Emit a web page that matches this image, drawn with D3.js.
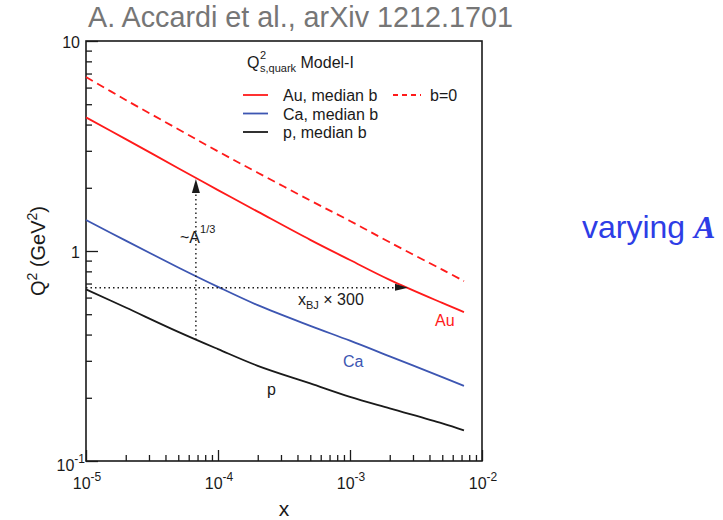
<!DOCTYPE html>
<html>
<head>
<meta charset="utf-8">
<script src="https://cdn.jsdelivr.net/npm/d3@7"></script>
<style>
  body { margin: 0; background: #fff; }
  svg { display: block; }
  text { font-family: "Liberation Sans", Arial, sans-serif; }
</style>
</head>
<body>
<svg width="723" height="520"></svg>
<script>
// values
var xs = [1e-5, 2e-5, 5e-5, 1e-4, 2e-4, 5e-4, 1e-3, 2e-3, 5e-3, 7.3e-3];
var auMedian = [4.33, 3.41, 2.48, 1.95, 1.54, 1.13, 0.906, 0.729, 0.566, 0.512];
var auB0 = [6.74, 5.24, 3.80, 2.98, 2.36, 1.74, 1.39, 1.10, 0.815, 0.719];
var caMedian = [1.405, 1.12, 0.835, 0.675, 0.552, 0.44, 0.374, 0.315, 0.251, 0.228];
var pMedian = [0.657, 0.538, 0.412, 0.341, 0.284, 0.234, 0.202, 0.178, 0.151, 0.140];

var xMajor = [1e-5, 1e-4, 1e-3, 1e-2];
var xExp = ["-5", "-4", "-3", "-2"];
var yMajor = [0.1, 1, 10];

// annotation arrows
var vArrow = { x: 6.8e-5, y0: 0.377, y1: 2.2 };
var hArrow = { y: 0.668, x0: 1e-5, x1: 2.75e-3 };

var red = "#ff1a1a", blue = "#3d56b2", black = "#1a1a1a";

var svg = d3.select("svg");
var margin = { left: 86, right: 482, top: 41, bottom: 461 };

var x = d3.scaleLog().domain([1e-5, 1e-2]).range([margin.left, margin.right]);
var y = d3.scaleLog().domain([0.1, 10]).range([margin.bottom, margin.top]);

// minor tick values
function minors(lo, hi) {
  var out = [];
  for (var e = lo; e < hi; e++)
    for (var k = 2; k <= 9; k++) out.push(k * Math.pow(10, e));
  return out;
}

var gx = svg.append("g").attr("transform", "translate(0," + margin.bottom + ")");
gx.call(d3.axisBottom(x).tickValues(minors(-5, -2)).tickSize(-6).tickSizeOuter(0).tickFormat(""));
gx.append("g").call(d3.axisBottom(x).tickValues(xMajor).tickSize(-11).tickSizeOuter(0).tickFormat(""));

var gy = svg.append("g").attr("transform", "translate(" + margin.left + ",0)");
gy.call(d3.axisLeft(y).tickValues(minors(-1, 1)).tickSize(-6).tickSizeOuter(0).tickFormat(""));
gy.append("g").call(d3.axisLeft(y).tickValues(yMajor).tickSize(-12).tickSizeOuter(0).tickFormat(""));

svg.selectAll(".domain").remove();
svg.selectAll(".tick line").attr("stroke", black).attr("stroke-width", 1.3);

// frame
svg.append("rect")
  .attr("x", margin.left).attr("y", margin.top)
  .attr("width", margin.right - margin.left).attr("height", margin.bottom - margin.top)
  .attr("fill", "none").attr("stroke", black).attr("stroke-width", 1.6);

// x tick labels
xMajor.forEach(function(v, i) {
  var t = svg.append("text").attr("x", x(v) + 1).attr("y", 489)
    .attr("text-anchor", "middle").attr("font-size", 16).attr("fill", black);
  t.append("tspan").text("10");
  t.append("tspan").attr("dy", -8).attr("font-size", 12).text(xExp[i]);
});

// y tick labels
svg.append("text").attr("x", 80).attr("y", y(10) + 7).attr("text-anchor", "end")
  .attr("font-size", 16).attr("fill", black).text("10");
svg.append("text").attr("x", 80).attr("y", y(1) + 7).attr("text-anchor", "end")
  .attr("font-size", 16).attr("fill", black).text("1");
var t1 = svg.append("text").attr("x", 85).attr("y", y(0.1) + 10).attr("text-anchor", "end")
  .attr("font-size", 16).attr("fill", black);
t1.append("tspan").text("10");
t1.append("tspan").attr("dy", -8).attr("font-size", 12).text("-1");

// axis titles
svg.append("text").attr("x", (margin.left + margin.right) / 2).attr("y", 516)
  .attr("text-anchor", "middle").attr("font-size", 21).attr("fill", black).text("x");
var yt = svg.append("text").attr("transform", "translate(45,251) rotate(-90)")
  .attr("text-anchor", "middle").attr("font-size", 20).attr("fill", black);
yt.append("tspan").text("Q");
yt.append("tspan").attr("dy", -8).attr("font-size", 14).text("2");
yt.append("tspan").attr("dy", 8).text(" (GeV");
yt.append("tspan").attr("dy", -8).attr("font-size", 14).text("2");
yt.append("tspan").attr("dy", 8).text(")");

// curves
var series = [
  { v: auB0, color: red, dash: "8,5" },
  { v: auMedian, color: red, dash: null },
  { v: caMedian, color: blue, dash: null },
  { v: pMedian, color: black, dash: null }
];
var line = d3.line().x(function(d) { return x(d[0]); }).y(function(d) { return y(d[1]); })
  .curve(d3.curveCatmullRom.alpha(0.5));
series.forEach(function(s) {
  svg.append("path")
    .datum(xs.map(function(xv, i) { return [xv, s.v[i]]; }))
    .attr("d", line)
    .attr("fill", "none").attr("stroke", s.color).attr("stroke-width", 1.8)
    .attr("stroke-dasharray", s.dash);
});

// dotted arrows
svg.append("line")
  .attr("x1", x(vArrow.x)).attr("x2", x(vArrow.x))
  .attr("y1", y(vArrow.y0)).attr("y2", y(vArrow.y1) + 10)
  .attr("stroke", black).attr("stroke-width", 1.4).attr("stroke-dasharray", "1.5,3");
var ax = x(vArrow.x), ay = y(vArrow.y1);
svg.append("path")
  .attr("d", "M" + ax + "," + ay + "L" + (ax - 4) + "," + (ay + 14) + "L" + (ax + 4) + "," + (ay + 14) + "Z")
  .attr("fill", black);

svg.append("line")
  .attr("x1", x(hArrow.x0)).attr("x2", x(hArrow.x1) - 12)
  .attr("y1", y(hArrow.y)).attr("y2", y(hArrow.y))
  .attr("stroke", black).attr("stroke-width", 1.4).attr("stroke-dasharray", "1.5,3");
var bx = x(hArrow.x1), by = y(hArrow.y);
svg.append("path")
  .attr("d", "M" + bx + "," + by + "L" + (bx - 13) + "," + (by - 4) + "L" + (bx - 13) + "," + (by + 3) + "Z")
  .attr("fill", black);

// annotation texts
var ta = svg.append("text").attr("x", 180).attr("y", 243).attr("font-size", 16).attr("fill", black);
ta.append("tspan").text("~A");
ta.append("tspan").attr("dy", -10).attr("font-size", 11).text("1/3");

var tb = svg.append("text").attr("x", 298).attr("y", 305).attr("font-size", 16).attr("fill", black);
tb.append("tspan").text("x");
tb.append("tspan").attr("dy", 4).attr("font-size", 11).text("BJ");
tb.append("tspan").attr("dy", -4).text(" \u00d7 300");

svg.append("text").attr("x", 435).attr("y", 326).attr("font-size", 16).attr("fill", red).text("Au");
svg.append("text").attr("x", 343).attr("y", 367).attr("font-size", 16).attr("fill", blue).text("Ca");
svg.append("text").attr("x", 267).attr("y", 395).attr("font-size", 16).attr("fill", black).text("p");

// legend
var lt = svg.append("text").attr("x", 247).attr("y", 68).attr("font-size", 16).attr("fill", black);
lt.append("tspan").text("Q");
lt.append("tspan").attr("x", 260).attr("dy", -9).attr("font-size", 11).text("2");
lt.append("tspan").attr("x", 260).attr("dy", 13).attr("font-size", 11).text("s,quark");
lt.append("tspan").attr("dy", -4).text(" Model-I");

var legendRows = [
  { label: "Au, median b", color: red, y: 95 },
  { label: "Ca, median b", color: blue, y: 113.5 },
  { label: "p, median b", color: black, y: 132 }
];
legendRows.forEach(function(r) {
  svg.append("line").attr("x1", 243).attr("x2", 268).attr("y1", r.y).attr("y2", r.y)
    .attr("stroke", r.color).attr("stroke-width", 1.8);
  svg.append("text").attr("x", 283).attr("y", r.y + 6).attr("font-size", 16).attr("fill", black).text(r.label);
});
svg.append("line").attr("x1", 393).attr("x2", 421).attr("y1", 95).attr("y2", 95)
  .attr("stroke", red).attr("stroke-width", 1.8).attr("stroke-dasharray", "5,4");
svg.append("text").attr("x", 430).attr("y", 101).attr("font-size", 16).attr("fill", black).text("b=0");

// fit a text element to a target width
function fitWidth(sel, w) {
  var fs = +sel.attr("font-size");
  var cur = sel.node().getComputedTextLength();
  sel.attr("font-size", fs * w / cur);
}

var title = svg.append("text").attr("x", 88).attr("y", 27)
  .attr("font-family", "Lato, 'Open Sans', sans-serif").attr("font-size", 24)
  .attr("fill", "#767676").text("A. Accardi et al., arXiv 1212.1701");
fitWidth(title, 425);

var vt = svg.append("text").attr("x", 582).attr("y", 238)
  .attr("font-family", "Lato, 'Open Sans', sans-serif").attr("font-size", 32)
  .attr("fill", "#2e3de6");
vt.append("tspan").text("varying ");
vt.append("tspan").attr("font-family", "'Liberation Serif', 'DejaVu Serif', serif")
  .attr("font-weight", "bold").attr("font-style", "italic").text("A");
</script>
</body>
</html>
